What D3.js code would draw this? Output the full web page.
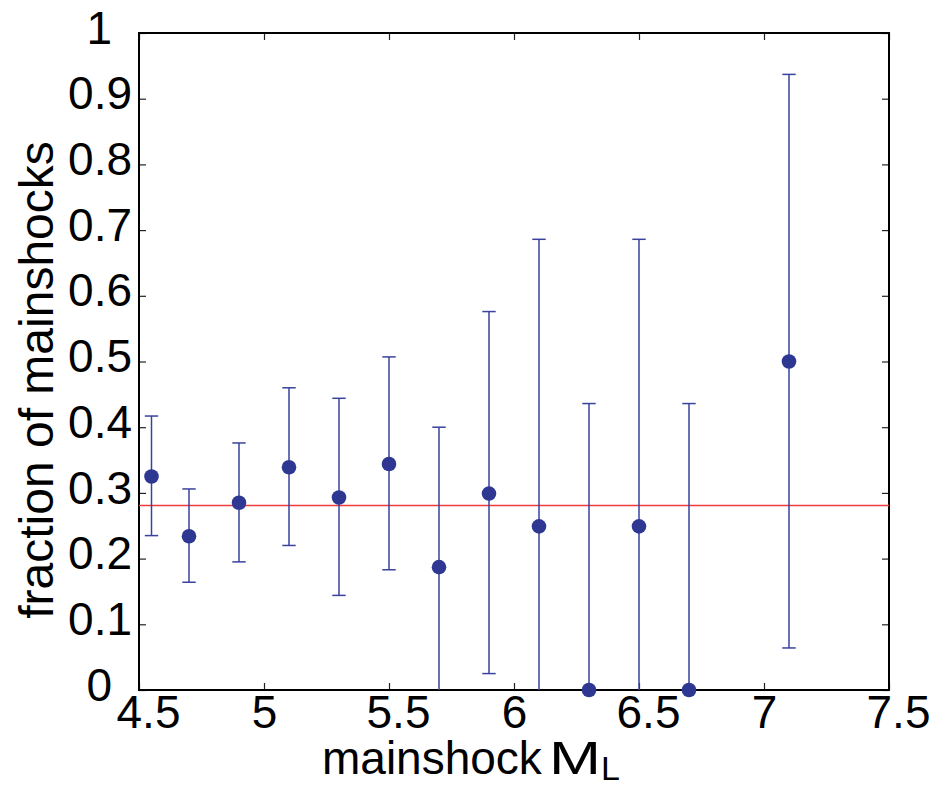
<!DOCTYPE html>
<html>
<head>
<meta charset="utf-8">
<script src="https://cdn.jsdelivr.net/npm/d3@7"></script>
<style>
  body { margin: 0; background: #fff; }
  svg { display: block; font-family: "Liberation Sans", Arial, sans-serif; }
</style>
</head>
<body>
<div id="chart"></div>
<script>
// values
const magnitudes = [4.55, 4.7, 4.9, 5.1, 5.3, 5.5, 5.7, 5.9, 6.1, 6.3, 6.5, 6.7, 7.1];
const fractions  = [0.325, 0.234, 0.285, 0.339, 0.293, 0.344, 0.187, 0.299, 0.249, 0, 0.249, 0, 0.5];
const lowerBound = [0.235, 0.164, 0.195, 0.22, 0.144, 0.183, 0, 0.025, 0, 0, 0, 0, 0.064];
const upperBound = [0.417, 0.306, 0.376, 0.46, 0.444, 0.507, 0.4, 0.576, 0.686, 0.436, 0.686, 0.436, 0.937];
const meanFraction = 0.281;

const xTicks = [4.5, 5, 5.5, 6, 6.5, 7, 7.5];
const xTickLabels = ["4.5", "5", "5.5", "6", "6.5", "7", "7.5"];
const yTicks = [0, 0.1, 0.2, 0.3, 0.4, 0.5, 0.6, 0.7, 0.8, 0.9, 1];
const yTickLabels = ["0", "0.1", "0.2", "0.3", "0.4", "0.5", "0.6", "0.7", "0.8", "0.9", "1"];

const data = magnitudes.map((m, i) => ({
    m: m, f: fractions[i], lo: lowerBound[i], hi: upperBound[i]
}));

const W = 936, H = 788;
const margin = {top: 33, right: 47, bottom: 98, left: 139};
const width = W - margin.left - margin.right;
const height = H - margin.top - margin.bottom;

const svg = d3.select("#chart").append("svg")
    .attr("width", W)
    .attr("height", H);

const g = svg.append("g")
    .attr("transform", `translate(${margin.left},${margin.top})`);

const x = d3.scaleLinear().domain([4.5, 7.5]).range([0, width]);
const y = d3.scaleLinear().domain([0, 1]).range([height, 0]);

g.append("clipPath").attr("id", "plotclip")
    .append("rect").attr("width", width).attr("height", height);

// bottom axis with labels
const xAxis = g.append("g")
    .attr("transform", `translate(0,${height})`)
    .call(d3.axisBottom(x).tickValues(xTicks)
        .tickFormat((d, i) => xTickLabels[i])
        .tickSizeInner(-7).tickSizeOuter(0).tickPadding(5));

xAxis.selectAll("text")
    .attr("dx", (d, i) => xTickLabels[i].includes(".") ? 9 : 0);

// left axis with labels
const yAxis = g.append("g")
    .call(d3.axisLeft(y).tickValues(yTicks)
        .tickFormat((d, i) => yTickLabels[i])
        .tickSizeInner(-7).tickSizeOuter(0).tickPadding(7));

yAxis.selectAll("text")
    .attr("dy", "0.22em")
    .attr("dx", (d, i) => yTickLabels[i].includes(".") ? 0 : -20);

// top and right ticks only
g.append("g")
    .call(d3.axisTop(x).tickValues(xTicks).tickFormat("")
        .tickSizeInner(-7).tickSizeOuter(0));
g.append("g")
    .attr("transform", `translate(${width},0)`)
    .call(d3.axisRight(y).tickValues(yTicks).tickFormat("")
        .tickSizeInner(-7).tickSizeOuter(0));

g.selectAll(".domain").remove();
g.selectAll(".tick line").attr("stroke", "#222").attr("stroke-width", 1.2);
g.selectAll(".tick text")
    .attr("fill", "#000")
    .style("font-size", "46px");

// frame
g.append("rect")
    .attr("width", width)
    .attr("height", height)
    .attr("fill", "none")
    .attr("stroke", "#000")
    .attr("stroke-width", 2);

// mean line
g.append("line")
    .attr("x1", x(4.5)).attr("x2", x(7.5))
    .attr("y1", y(meanFraction)).attr("y2", y(meanFraction))
    .attr("stroke", "#ee3b3e")
    .attr("stroke-width", 1.5);

// error bars
const bars = g.append("g").attr("clip-path", "url(#plotclip)");
const capW = 6.7;

bars.selectAll(".bar")
    .data(data)
    .enter().append("line")
    .attr("class", "bar")
    .attr("x1", d => x(d.m)).attr("x2", d => x(d.m))
    .attr("y1", d => y(d.lo)).attr("y2", d => y(d.hi))
    .attr("stroke", "#3a429e").attr("stroke-width", 1.5);

bars.selectAll(".cap-hi")
    .data(data)
    .enter().append("line")
    .attr("class", "cap-hi")
    .attr("x1", d => x(d.m) - capW).attr("x2", d => x(d.m) + capW)
    .attr("y1", d => y(d.hi)).attr("y2", d => y(d.hi))
    .attr("stroke", "#3a429e").attr("stroke-width", 1.5);

bars.selectAll(".cap-lo")
    .data(data.filter(d => d.lo > 0))
    .enter().append("line")
    .attr("class", "cap-lo")
    .attr("x1", d => x(d.m) - capW).attr("x2", d => x(d.m) + capW)
    .attr("y1", d => y(d.lo)).attr("y2", d => y(d.lo))
    .attr("stroke", "#3a429e").attr("stroke-width", 1.5);

// points
g.selectAll(".dot")
    .data(data)
    .enter().append("circle")
    .attr("class", "dot")
    .attr("cx", d => x(d.m))
    .attr("cy", d => y(d.f))
    .attr("r", 7.3)
    .attr("fill", "#2e3892");

// axis titles
const xt = svg.append("text")
    .attr("x", 322)
    .attr("y", 774)
    .attr("fill", "#000")
    .style("font-size", "46px");
xt.append("tspan").text("mainshock");
xt.append("tspan")
    .attr("x", 549)
    .attr("textLength", 52)
    .attr("lengthAdjust", "spacingAndGlyphs")
    .text("M");
xt.append("tspan")
    .attr("dy", 6)
    .style("font-size", "34px")
    .text("L");

svg.append("text")
    .attr("transform", "translate(53,380) rotate(-90)")
    .attr("text-anchor", "middle")
    .attr("fill", "#000")
    .style("font-size", "48px")
    .text("fraction of mainshocks");
</script>
</body>
</html>
